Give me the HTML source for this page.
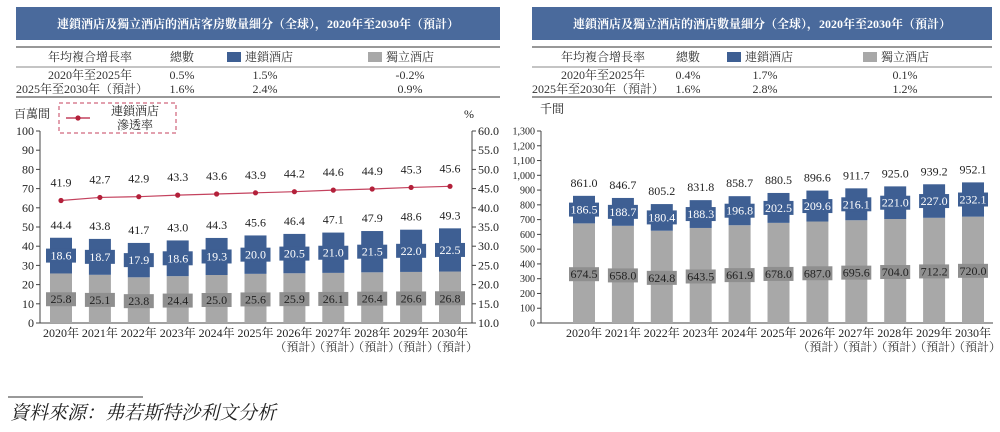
<!DOCTYPE html>
<html><head><meta charset="utf-8">
<style>
body{margin:0;background:#fff;}
svg{display:block;font-family:"Liberation Serif","Noto Serif CJK SC","Noto Sans CJK TC",serif;}
</style></head>
<body>
<svg id="c" width="1000" height="432" viewBox="0 0 1000 432">
<g>
<rect x="16" y="7" width="484" height="33" fill="#4a6a9c"/>
<text x="258" y="28" fill="#fff" font-size="12" text-anchor="middle" font-weight="bold">連鎖酒店及獨立酒店的酒店客房數量細分（全球），2020年至2030年（預計）</text>
</g>
<g>
<rect x="532" y="7" width="460" height="33" fill="#4a6a9c"/>
<text x="762" y="28" fill="#fff" font-size="12" text-anchor="middle" font-weight="bold">連鎖酒店及獨立酒店的酒店數量細分（全球），2020年至2030年（預計）</text>
</g>
<g id="tables" font-size="12" fill="#333"></g>
<g id="left"></g>
<g id="right"></g>
<line x1="8" y1="397" x2="143" y2="397" stroke="#333" stroke-width="1"/>
<text x="10" y="419" font-size="19" font-style="italic" fill="#222">資料來源：弗若斯特沙利文分析</text>
</svg>
<script>
const years=["2020年","2021年","2022年","2023年","2024年","2025年","2026年","2027年","2028年","2029年","2030年"];
const forecast=[0,0,0,0,0,0,1,1,1,1,1];
const roomsTotal=[44.4,43.8,41.7,43.0,44.3,45.6,46.4,47.1,47.9,48.6,49.3];
const roomsChain=[18.6,18.7,17.9,18.6,19.3,20.0,20.5,21.0,21.5,22.0,22.5];
const roomsIndep=[25.8,25.1,23.8,24.4,25.0,25.6,25.9,26.1,26.4,26.6,26.8];
const penetration=[41.9,42.7,42.9,43.3,43.6,43.9,44.2,44.6,44.9,45.3,45.6];
const hotelsTotal=[861.0,846.7,805.2,831.8,858.7,880.5,896.6,911.7,925.0,939.2,952.1];
const hotelsChain=[186.5,188.7,180.4,188.3,196.8,202.5,209.6,216.1,221.0,227.0,232.1];
const hotelsIndep=[674.5,658.0,624.8,643.5,661.9,678.0,687.0,695.6,704.0,712.2,720.0];
const leftTicks=[0,10,20,30,40,50,60,70,80,90,100];
const rightPctTicks=[10,15,20,25,30,35,40,45,50,55,60];
const hotelTicks=[0,100,200,300,400,500,600,700,800,900,1000,1100,1200,1300];
const cagrLeft=[["2020年至2025年","0.5%","1.5%","-0.2%"],["2025年至2030年（預計）","1.6%","2.4%","0.9%"]];
const cagrRight=[["2020年至2025年","0.4%","1.7%","0.1%"],["2025年至2030年（預計）","1.6%","2.8%","1.2%"]];

const NS="http://www.w3.org/2000/svg";
const BLUE="#3e5f93",GREY="#a8a8a8",GLAB="#8f8f8f";
function el(p,t,a,txt){const e=document.createElementNS(NS,t);for(const k in a)e.setAttribute(k,a[k]);if(txt!==undefined)e.textContent=txt;p.appendChild(e);return e;}

const T=document.getElementById('tables');
function table(x0,w,cx,rows,name){
  const g=el(T,'g',{});
  
  
  el(g,'line',{x1:x0,y1:47,x2:x0+w,y2:47,stroke:"#777","stroke-width":1.5});
  el(g,'line',{x1:x0,y1:67,x2:x0+w,y2:67,stroke:"#888","stroke-width":1});
  el(g,'line',{x1:x0,y1:97,x2:x0+w,y2:97,stroke:"#777","stroke-width":1.5});
  el(g,'text',{x:cx[0],y:61,"text-anchor":"middle"},"年均複合增長率");
  el(g,'text',{x:cx[1],y:61,"text-anchor":"middle"},"總數");
  el(g,'rect',{x:cx[2]-38,y:52,width:14,height:10,fill:BLUE});
  el(g,'text',{x:cx[2]+4,y:61,"text-anchor":"middle"},"連鎖酒店");
  el(g,'rect',{x:cx[3]-42,y:52,width:14,height:10,fill:GREY});
  el(g,'text',{x:cx[3],y:61,"text-anchor":"middle"},"獨立酒店");
  rows.forEach((r,i)=>{const y=79+i*14;
    if(i===0)el(g,'text',{x:cx[0],y:y,"text-anchor":"middle"},r[0]);
    else el(g,'text',{x:x0,y:y},r[0]);
    el(g,'text',{x:cx[1],y:y,"text-anchor":"middle"},r[1]);
    el(g,'text',{x:cx[2],y:y,"text-anchor":"middle"},r[2]);
    el(g,'text',{x:cx[3],y:y,"text-anchor":"middle"},r[3]);
  });
}
table(16,484,[90,182,265,410],cagrLeft,'left-cagr-table');
table(532,460,[603,688,765,905],cagrRight,'right-cagr-table');

function xLabels(g,xc){
  years.forEach((y,i)=>{
    const t=el(g,'text',{x:xc(i),y:337,"font-size":12,"text-anchor":"middle",fill:"#222"},y);
    
    
    if(forecast[i])el(g,'text',{x:xc(i)+4,y:351,"font-size":12,"text-anchor":"middle",fill:"#333"},"（預計）");
  });
}
function stacked(g,xc,ys,indep,chain,total,fs){
  years.forEach((yr,i)=>{
    const x=xc(i),bw=22;
    const r1=el(g,'rect',{x:x-bw/2,y:ys(indep[i]),width:bw,height:ys(0)-ys(indep[i]),fill:GREY});
    
    
    const r2=el(g,'rect',{x:x-bw/2,y:ys(indep[i]+chain[i]),width:bw,height:ys(indep[i])-ys(indep[i]+chain[i]),fill:BLUE});
    
    
    const gm=(ys(0)+ys(indep[i]))/2+1;
    el(g,'rect',{x:x-15,y:gm-7,width:30,height:14,fill:GLAB});
    el(g,'text',{x:x,y:gm+4,"font-size":fs,"text-anchor":"middle",fill:"#222"},indep[i].toFixed(1));
    const bm=(ys(indep[i])+ys(indep[i]+chain[i]))/2;
    el(g,'rect',{x:x-15,y:bm-7,width:30,height:14,fill:BLUE});
    el(g,'text',{x:x,y:bm+4,"font-size":fs,"text-anchor":"middle",fill:"#fff"},chain[i].toFixed(1));
    el(g,'text',{x:x,y:ys(total[i])-9,"font-size":12,"text-anchor":"middle",fill:"#222"},total[i].toFixed(1));
  });
}

const L=document.getElementById('left');
const xL=i=>61+i*38.9;
const yL=v=>323-v*1.92;
const yP=p=>323-(p-10)*3.84;
el(L,'line',{x1:40,y1:yL(0),x2:472,y2:yL(0),stroke:"#444"});
el(L,'line',{x1:40,y1:yL(0),x2:40,y2:yL(100),stroke:"#444"});
el(L,'line',{x1:472,y1:yP(10),x2:472,y2:yP(60),stroke:"#444"});
leftTicks.forEach(t=>{el(L,'line',{x1:36,y1:yL(t),x2:40,y2:yL(t),stroke:"#444"});
  el(L,'text',{x:34,y:yL(t)+4,"font-size":12,"text-anchor":"end",fill:"#222"},t);});
rightPctTicks.forEach(t=>{el(L,'line',{x1:472,y1:yP(t),x2:476,y2:yP(t),stroke:"#444"});
  el(L,'text',{x:478,y:yP(t)+4,"font-size":12,fill:"#222"},t.toFixed(1));});
el(L,'text',{x:14,y:118,"font-size":12,fill:"#222"},"百萬間");
el(L,'text',{x:464,y:118,"font-size":12,fill:"#222"},"%");
stacked(L,xL,yL,roomsIndep,roomsChain,roomsTotal,12);
const pts=penetration.map((p,i)=>xL(i)+","+yP(p)).join(" ");
const pl=el(L,'polyline',{points:pts,fill:"none",stroke:"#c4425e","stroke-width":1.2});


penetration.forEach((p,i)=>{
  const c=el(L,'circle',{cx:xL(i),cy:yP(p),r:2.6,fill:"#b3203a"});
  
  
  el(L,'text',{x:xL(i),y:yP(p)-14,"font-size":12,"text-anchor":"middle",fill:"#222"},p.toFixed(1));
});
const lg=el(L,'g',{});


el(lg,'rect',{x:59,y:103,width:117,height:30,fill:"none",stroke:"#c4425e","stroke-dasharray":"4,3"});
el(lg,'line',{x1:66,y1:118,x2:90,y2:118,stroke:"#c4425e","stroke-width":1.5});
el(lg,'circle',{cx:78,cy:118,r:2.6,fill:"#b3203a"});
el(lg,'text',{x:135,y:115,"font-size":12,"text-anchor":"middle",fill:"#222"},"連鎖酒店");
el(lg,'text',{x:135,y:129,"font-size":12,"text-anchor":"middle",fill:"#222"},"滲透率");
xLabels(L,xL);

const R=document.getElementById('right');
const xR=i=>584+i*38.9;
const yR=v=>323-v*192/1300;
el(R,'line',{x1:541,y1:yR(0),x2:993,y2:yR(0),stroke:"#444"});
el(R,'line',{x1:541,y1:yR(0),x2:541,y2:yR(1300),stroke:"#444"});
hotelTicks.forEach(t=>{el(R,'line',{x1:537,y1:yR(t),x2:541,y2:yR(t),stroke:"#444"});
  el(R,'text',{x:535,y:yR(t)+3.5,"font-size":10,"text-anchor":"end",fill:"#222"},t.toLocaleString("en-US"));});
el(R,'text',{x:540,y:113,"font-size":12,fill:"#222"},"千間");
stacked(R,xR,yR,hotelsIndep,hotelsChain,hotelsTotal,12);
xLabels(R,xR);
</script>
</body></html>
